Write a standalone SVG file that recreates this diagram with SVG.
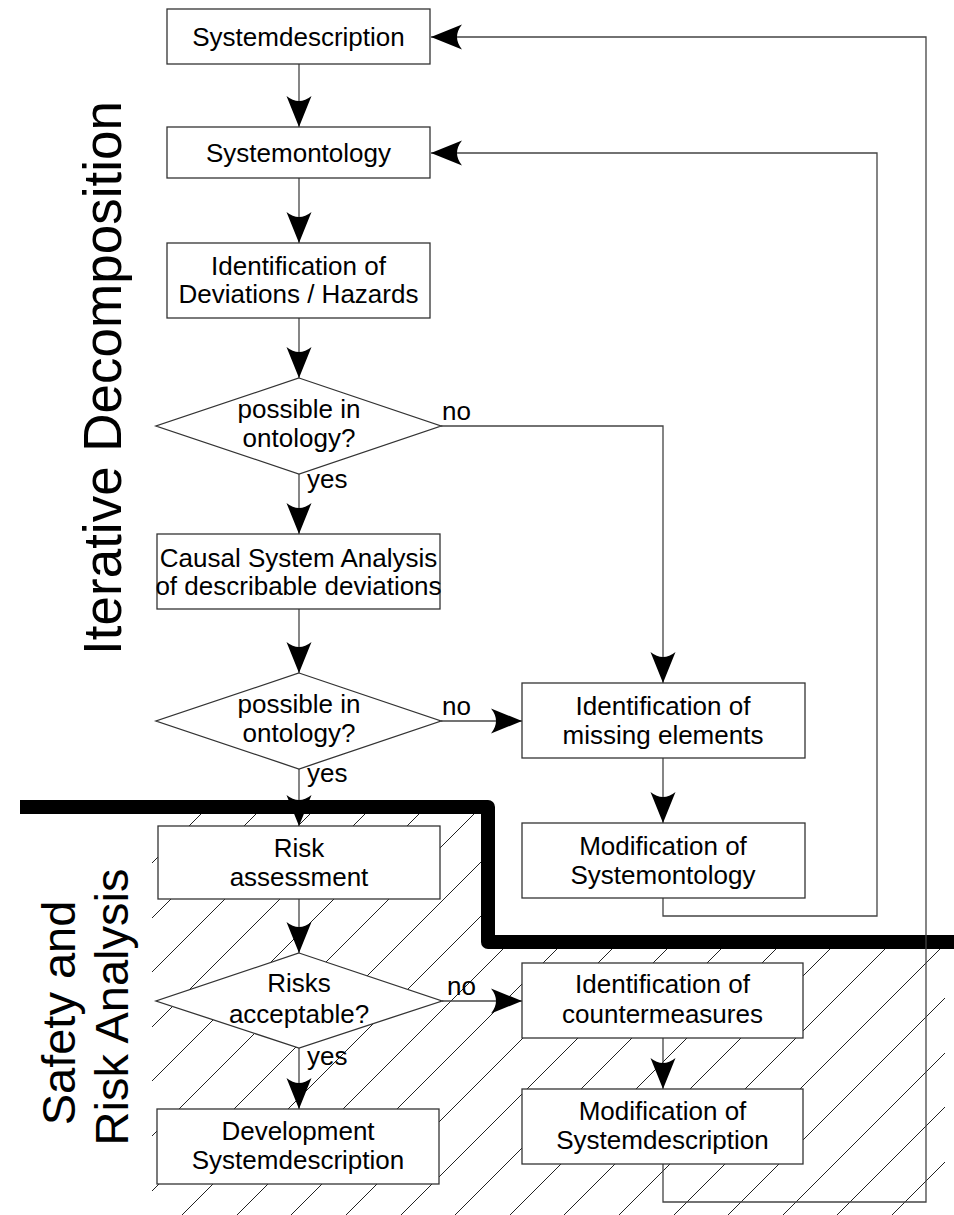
<svg xmlns="http://www.w3.org/2000/svg" width="954" height="1215" viewBox="0 0 954 1215">
<style>
text{font-family:"Liberation Sans",Arial,sans-serif;fill:#000}
.t{font-size:26px;text-anchor:middle}
.l{font-size:26px}
.big{text-anchor:middle}
.box{fill:#fff;stroke:#333;stroke-width:1.3}
.c{fill:none;stroke:#444;stroke-width:1.3}
.h{stroke:#222;stroke-width:1}
</style>
<defs>
<marker id="ah" markerUnits="userSpaceOnUse" viewBox="-31 -13 32 26" markerWidth="32" markerHeight="26" refX="0" refY="0" orient="auto">
<path d="M0,0 L-31,-12.5 Q-21,0 -31,12.5 Z" fill="#000"/>
</marker>
<clipPath id="hc">
<polygon points="152,807 488,807 488,942 945,942 945,1215 152,1215"/>
</clipPath>
</defs>
<rect width="954" height="1215" fill="#fff"/>
<g id="hatch" clip-path="url(#hc)">
<line class="h" x1="215" y1="800" x2="-200" y2="1215"/>
<line class="h" x1="270" y1="800" x2="-145" y2="1215"/>
<line class="h" x1="324" y1="800" x2="-91" y2="1215"/>
<line class="h" x1="379" y1="800" x2="-36" y2="1215"/>
<line class="h" x1="433" y1="800" x2="18" y2="1215"/>
<line class="h" x1="488" y1="800" x2="73" y2="1215"/>
<line class="h" x1="543" y1="800" x2="128" y2="1215"/>
<line class="h" x1="597" y1="800" x2="182" y2="1215"/>
<line class="h" x1="652" y1="800" x2="237" y2="1215"/>
<line class="h" x1="706" y1="800" x2="291" y2="1215"/>
<line class="h" x1="761" y1="800" x2="346" y2="1215"/>
<line class="h" x1="816" y1="800" x2="401" y2="1215"/>
<line class="h" x1="870" y1="800" x2="455" y2="1215"/>
<line class="h" x1="925" y1="800" x2="510" y2="1215"/>
<line class="h" x1="979" y1="800" x2="564" y2="1215"/>
<line class="h" x1="1034" y1="800" x2="619" y2="1215"/>
<line class="h" x1="1089" y1="800" x2="674" y2="1215"/>
<line class="h" x1="1143" y1="800" x2="728" y2="1215"/>
<line class="h" x1="1198" y1="800" x2="783" y2="1215"/>
<line class="h" x1="1252" y1="800" x2="837" y2="1215"/>
<line class="h" x1="1307" y1="800" x2="892" y2="1215"/>
<line class="h" x1="1362" y1="800" x2="947" y2="1215"/>
</g>
<g id="divider">
<polyline points="20,807 488,807 488,942 960,942" fill="none" stroke="#000" stroke-width="14" stroke-linejoin="round"/>
</g>
<g id="connectors">
<line class="c" x1="299" y1="64" x2="299" y2="127" marker-end="url(#ah)"/>
<line class="c" x1="299" y1="178" x2="299" y2="243" marker-end="url(#ah)"/>
<line class="c" x1="299" y1="318" x2="299" y2="378" marker-end="url(#ah)"/>
<line class="c" x1="299" y1="474" x2="299" y2="534" marker-end="url(#ah)"/>
<line class="c" x1="299" y1="609" x2="299" y2="673" marker-end="url(#ah)"/>
<line class="c" x1="299" y1="769" x2="299" y2="826" marker-end="url(#ah)"/>
<line class="c" x1="299" y1="899" x2="299" y2="953" marker-end="url(#ah)"/>
<line class="c" x1="299" y1="1048" x2="299" y2="1109" marker-end="url(#ah)"/>
<polyline class="c" points="441,426 663,426 663,683" marker-end="url(#ah)"/>
<line class="c" x1="441" y1="721" x2="522" y2="721" marker-end="url(#ah)"/>
<line class="c" x1="663" y1="758" x2="663" y2="823" marker-end="url(#ah)"/>
<polyline class="c" points="663,898 663,916 877,916 877,153 431,153" marker-end="url(#ah)"/>
<line class="c" x1="442" y1="1001" x2="522" y2="1001" marker-end="url(#ah)"/>
<line class="c" x1="663" y1="1038" x2="663" y2="1089" marker-end="url(#ah)"/>
<polyline class="c" points="663,1164 663,1202 926,1202 926,37 431,37" marker-end="url(#ah)"/>
</g>
<g id="n-systemdescription">
<rect class="box" x="167" y="9" width="263" height="55"/>
<text class="t" x="298.5" y="46">Systemdescription</text>
</g>
<g id="n-systemontology">
<rect class="box" x="167" y="127" width="263" height="51"/>
<text class="t" x="298.5" y="162">Systemontology</text>
</g>
<g id="n-identification-deviations">
<rect class="box" x="167" y="243" width="263" height="75"/>
<text class="t" x="298.5" y="275">Identification of</text>
<text class="t" x="298.5" y="303">Deviations / Hazards</text>
</g>
<g id="n-decision1">
<polygon class="box" points="299,378 441,426 299,474 156,426"/>
<text class="t" x="299" y="418">possible in</text>
<text class="t" x="299" y="447">ontology?</text>
</g>
<g id="n-causal">
<rect class="box" x="157" y="534" width="283" height="75"/>
<text class="t" x="298.5" y="567">Causal System Analysis</text>
<text class="t" x="298.5" y="595">of describable deviations</text>
</g>
<g id="n-decision2">
<polygon class="box" points="299,673 441,721 299,769 156,721"/>
<text class="t" x="299" y="713">possible in</text>
<text class="t" x="299" y="742">ontology?</text>
</g>
<g id="n-missing">
<rect class="box" x="522" y="683" width="283" height="75"/>
<text class="t" x="663" y="715">Identification of</text>
<text class="t" x="663" y="744">missing elements</text>
</g>
<g id="n-mod-ontology">
<rect class="box" x="522" y="823" width="283" height="75"/>
<text class="t" x="663" y="855">Modification of</text>
<text class="t" x="663" y="884">Systemontology</text>
</g>
<g id="n-risk">
<rect class="box" x="158" y="826" width="282" height="73"/>
<text class="t" x="299" y="857">Risk</text>
<text class="t" x="299" y="886">assessment</text>
</g>
<g id="n-decision3">
<polygon class="box" points="299,953 442,1001 299,1048 156,1001"/>
<text class="t" x="299" y="992">Risks</text>
<text class="t" x="299" y="1023">acceptable?</text>
</g>
<g id="n-countermeasures">
<rect class="box" x="522" y="963" width="281" height="75"/>
<text class="t" x="662.5" y="993">Identification of</text>
<text class="t" x="662.5" y="1023">countermeasures</text>
</g>
<g id="n-mod-description">
<rect class="box" x="522" y="1089" width="281" height="75"/>
<text class="t" x="662.5" y="1120">Modification of</text>
<text class="t" x="662.5" y="1149">Systemdescription</text>
</g>
<g id="n-development">
<rect class="box" x="157" y="1109" width="282" height="75"/>
<text class="t" x="298" y="1140">Development</text>
<text class="t" x="298" y="1169">Systemdescription</text>
</g>
<g id="labels">
<text class="l" x="442" y="420">no</text>
<text class="l" x="307" y="488">yes</text>
<text class="l" x="442" y="715">no</text>
<text class="l" x="307" y="782">yes</text>
<text class="l" x="447" y="995">no</text>
<text class="l" x="307" y="1065">yes</text>
</g>
<g id="regions">
<text class="big" font-size="53" transform="translate(121,378) rotate(-90)">Iterative Decomposition</text>
<text class="big" font-size="47" transform="translate(75,1013) rotate(-90)">Safety and</text>
<text class="big" font-size="47" transform="translate(128,1007) rotate(-90)">Risk Analysis</text>
</g>
</svg>
